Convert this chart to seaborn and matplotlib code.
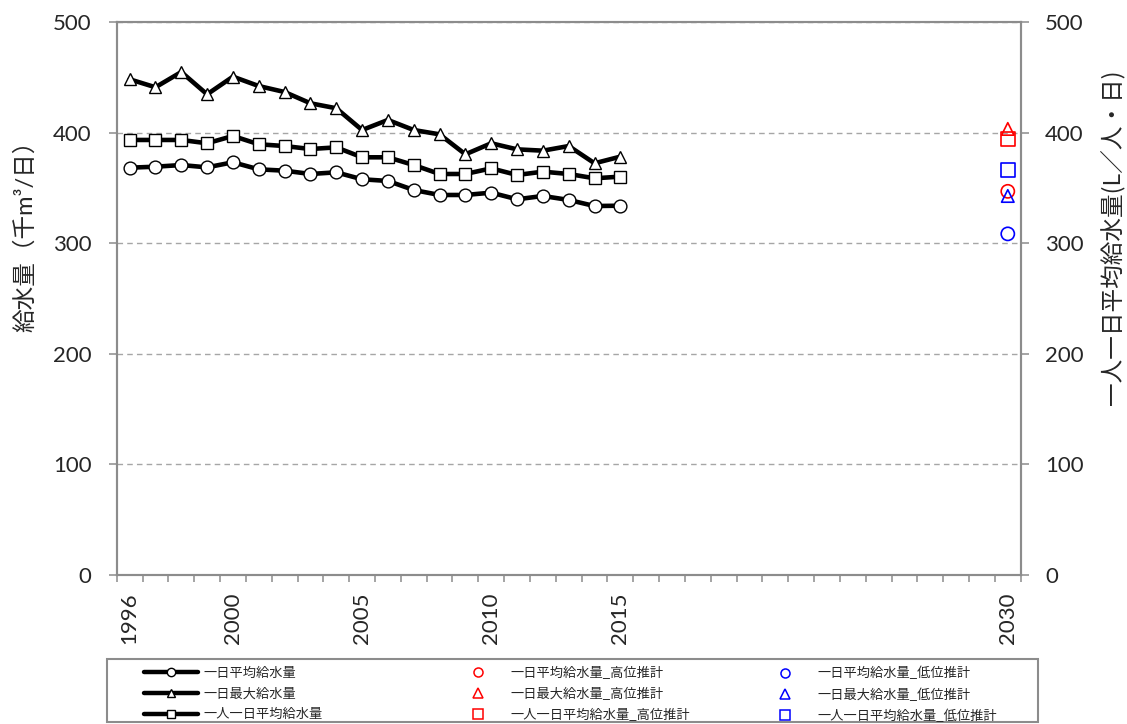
import numpy as np
import pandas as pd
import matplotlib
matplotlib.use("Agg")
import matplotlib.pyplot as plt
from matplotlib.lines import Line2D
from matplotlib.patches import Rectangle
import seaborn as sns

# ---------------- data ----------------
years = list(range(1996, 2016))
avg_supply = [368.4, 369.3, 370.8, 368.7, 373.3, 366.9, 365.7, 362.7, 364.2, 357.9,
              356.4, 348.2, 343.7, 343.7, 345.8, 339.8, 342.8, 339.2, 333.7, 334.0]
max_supply = [448.4, 441.2, 455.0, 434.8, 450.8, 442.3, 436.9, 426.7, 422.2, 402.5,
              411.6, 402.5, 398.6, 380.5, 390.5, 385.0, 383.8, 388.0, 372.4, 378.4]
percap_supply = [393.5, 393.5, 393.5, 390.5, 397.1, 389.6, 388.0, 385.3, 386.8, 377.8,
                 377.8, 370.8, 362.7, 362.7, 367.8, 361.8, 364.8, 362.7, 358.8, 360.3]

proj_year = [2030]
avg_high = [347.0]
max_high = [403.5]
percap_high = [394.2]
avg_low = [308.5]
max_low = [342.8]
percap_low = [366.6]

xtick_years = [1996, 2000, 2005, 2010, 2015, 2030]
ytick_values = [0, 100, 200, 300, 400, 500]

labels_actual = ["一日平均給水量", "一日最大給水量", "一人一日平均給水量"]
labels_high = ["一日平均給水量_高位推計", "一日最大給水量_高位推計", "一人一日平均給水量_高位推計"]
labels_low = ["一日平均給水量_低位推計", "一日最大給水量_低位推計", "一人一日平均給水量_低位推計"]
left_label = "給水量（千m³/日）"
right_label = "一人一日平均給水量(L／人・日)"

# ---------------- style ----------------
sns.set_style("white")
plt.rcParams["font.family"] = ["Lato", "Noto Sans CJK JP", "DejaVu Sans"]
JP = ["Noto Sans CJK JP", "DejaVu Sans"]
LATJP = ["Lato", "Noto Sans CJK JP", "DejaVu Sans"]
GRAY = "#8c8c8c"

W, H = 1127, 724
fig = plt.figure(figsize=(W / 100, H / 100), dpi=100)
x0, x1, y_top, y_bot = 116.7, 1020.7, 22.3, 574.7
ax = fig.add_axes([x0 / W, 1 - y_bot / H, (x1 - x0) / W, (y_bot - y_top) / H])
ax2 = ax.twinx()

# ---------------- series ----------------
line_kw = dict(color="black", lw=3.3, markersize=9.2, markerfacecolor="white",
               markeredgecolor="black", markeredgewidth=1.0, legend=False)
sns.lineplot(x=years, y=max_supply, ax=ax, marker="^", **line_kw)
sns.lineplot(x=years, y=avg_supply, ax=ax, marker="o", **line_kw)
sns.lineplot(x=years, y=percap_supply, ax=ax2, marker="s", **line_kw)

def proj(axis, vals, marker, color, size):
    sns.scatterplot(x=proj_year, y=vals, ax=axis, marker=marker, s=size ** 2,
                    facecolors="none", edgecolor=color, linewidth=1.2, legend=False,
                    zorder=5)

proj(ax, avg_high, "o", "#ff0000", 9.5)
proj(ax, max_high, "^", "#ff0000", 9.0)
proj(ax2, percap_high, "s", "#ff0000", 10.0)
proj(ax, avg_low, "o", "#0000ff", 9.5)
proj(ax, max_low, "^", "#0000ff", 9.0)
proj(ax2, percap_low, "s", "#0000ff", 10.0)

# ---------------- axes ----------------
for a in (ax, ax2):
    a.set_xlim(1995.5, 2030.5)
    a.set_ylim(0, 500)
    a.set_yticks(ytick_values)
    for s in a.spines.values():
        s.set_color(GRAY)
        s.set_linewidth(1.5)
    a.set_ylabel("")
    a.set_xlabel("")

ax.yaxis.grid(True, linestyle=(0, (4, 3)), color="#a6a6a6", linewidth=1.0)
ax.xaxis.grid(False)
ax2.grid(False)
ax.set_axisbelow(True)

ax.set_xticks(xtick_years)
ax.set_xticklabels([str(y) for y in xtick_years], rotation=90, fontsize=16)
ax.set_xticks(np.arange(1995.5, 2031, 1.0), minor=True)
ax.tick_params(axis="x", which="major", length=0, pad=12.5)
ax.tick_params(axis="x", which="minor", length=5, width=1.1, color=GRAY, direction="out", bottom=True)

ax.tick_params(axis="y", which="major", length=6, width=1.1, color=GRAY, direction="out",
               labelsize=16, pad=12, left=True)
ax2.tick_params(axis="y", which="major", length=6, width=1.1, color=GRAY, direction="out",
                labelsize=16, pad=11.5, right=True)
ax2.set_yticklabels([str(v) for v in ytick_values])
ax.set_yticklabels([str(v) for v in ytick_values])

fig.text(25 / W, 1 - 230 / H, left_label, rotation=90, ha="center", va="center",
         fontsize=17, family=LATJP)
fig.text(1113 / W, 1 - 237 / H, right_label, rotation=90, ha="center", va="center",
         fontsize=17, family=JP)

# ---------------- legend ----------------
fig.patches.append(Rectangle((107 / W, 1 - 722 / H), (1038 - 107) / W, (722 - 659) / H,
                             transform=fig.transFigure, fill=False, edgecolor=GRAY,
                             linewidth=1.5, figure=fig))

def mk(marker, color, line):
    if line:
        return Line2D([], [], color="black", lw=3.2, marker=marker, markersize=6,
                      markerfacecolor="white", markeredgecolor="black", markeredgewidth=1.0)
    return Line2D([], [], linestyle="none", marker=marker, markersize=6.5,
                  markerfacecolor="none", markeredgecolor=color, markeredgewidth=1.1)

markers = ["o", "^", "s"]
groups = [
    ([mk(m, "black", True) for m in markers], labels_actual, 144),
    ([mk(m, "#ff0000", False) for m in markers], labels_high, 451),
    ([mk(m, "#0000ff", False) for m in markers], labels_low, 758),
]
for handles, labs, xpos in groups:
    leg = fig.legend(handles, labs, loc="upper left", bbox_to_anchor=(xpos / W, 1 - 667 / H),
                     frameon=False, borderpad=0, borderaxespad=0, handlelength=4.1,
                     handletextpad=0.38, labelspacing=0.58, prop={"family": JP, "size": 9.5})

fig.savefig("out.png", dpi=100)
